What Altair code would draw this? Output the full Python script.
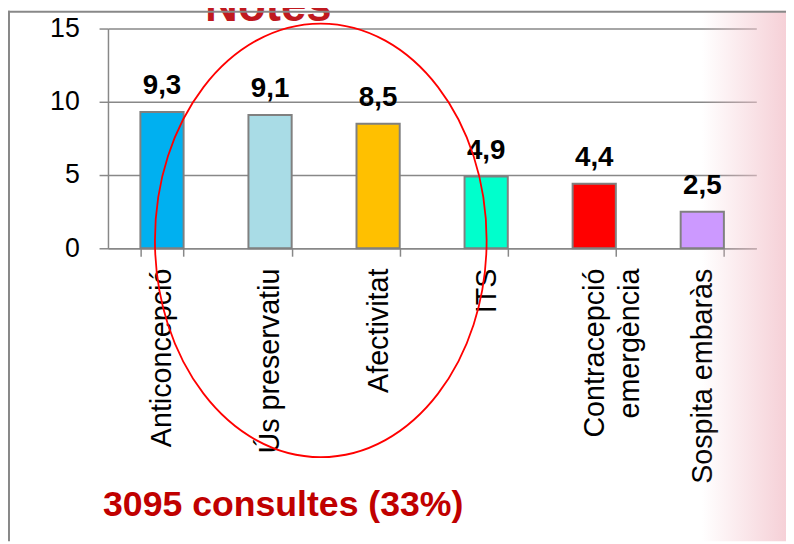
import altair as alt
import pandas as pd

categories = ["Anticoncepció", "Ús preservatiu", "Afectivitat", "ITS",
              "Contracepció emergència", "Sospita embaràs"]
values = [9.3, 9.1, 8.5, 4.9, 4.4, 2.5]
colors = ["#00B0F0", "#A9DCE6", "#FFC000", "#00FFCC", "#FF0000", "#CC99FF"]
y_ticks = [0, 5, 10, 15]
title_text = ["Notes"]
footer_text = ["3095 consultes (33%)"]

FONT = "Liberation Sans"
W, H = 655, 222

df = pd.DataFrame({"cat": categories, "value": values, "color": colors})

x_scale = alt.Scale(paddingInner=0.6, paddingOuter=0.3)
y_scale = alt.Scale(domain=[0, 15], nice=False)

x_enc = alt.X(
    "cat:N", sort=categories, scale=x_scale,
    axis=alt.Axis(
        title=None, labelAngle=270, labelFontSize=29, labelFont=FONT,
        labelColor="black", labelPadding=12, tickSize=8, tickColor="#888888",
        tickWidth=1.5, domainColor="#888888", domainWidth=1.5,
        tickBand="extent", grid=False, labelLineHeight=36, labelLimit=0,
        labelExpr="indexof(datum.label, 'emerg') > 0 ? split(datum.label, ' ') : datum.label",
    ),
)
y_enc = alt.Y(
    "value:Q", scale=y_scale,
    axis=alt.Axis(
        values=y_ticks, title=None, labelFontSize=27, labelFont=FONT,
        labelColor="black", tickSize=9, labelPadding=20, tickColor="#888888",
        tickWidth=1.5, domainColor="#888888", domainWidth=1.5,
        gridColor="#888888", gridWidth=1.5,
    ),
)

base = alt.Chart(df)

bg = alt.Chart(pd.DataFrame({"a": [0]})).mark_rect(
    fill=alt.Gradient(
        gradient="linear",
        stops=[alt.GradientStop(color="rgba(244,200,208,0)", offset=0),
               alt.GradientStop(color="rgba(244,200,208,0.85)", offset=1)],
        x1=0, x2=1, y1=0, y2=0,
    )
).encode(x=alt.value(600), x2=alt.value(685), y=alt.value(-18), y2=alt.value(518))

bars = base.mark_bar(stroke="#808080", strokeWidth=2).encode(
    x=x_enc, y=y_enc, color=alt.Color("color:N", scale=None)
)

labels = base.transform_calculate(
    label="replace(format(datum.value, '.1f'), '.', ',')"
).mark_text(
    font=FONT, fontSize=28, fontWeight="bold", dy=-18, baseline="alphabetic",
    color="black"
).encode(
    x=alt.X("cat:N", sort=categories, scale=x_scale),
    y=alt.Y("value:Q", scale=y_scale),
    text="label:N",
)

ell_path = "M -0.765 0 A 0.765 1 0 1 1 0.765 0 A 0.765 1 0 1 1 -0.765 0 Z"
ellipse = alt.Chart(pd.DataFrame({"a": [0]})).mark_point(
    shape=ell_path, size=438 * 438, filled=False, stroke="#FF0000",
    strokeWidth=1.8, opacity=1,
).encode(x=alt.value(215), y=alt.value(214))

title = alt.Chart(pd.DataFrame({"t": title_text})).mark_text(
    font=FONT, fontSize=46, fontWeight="bold", color="#C0191F",
    align="center", baseline="alphabetic",
).encode(x=alt.value(162), y=alt.value(-8), text="t:N")

footer = alt.Chart(pd.DataFrame({"t": footer_text})).mark_text(
    font=FONT, fontSize=36, fontWeight="bold", color="#C00000",
    align="left", baseline="alphabetic",
).encode(x=alt.value(-5), y=alt.value(492), text="t:N")

frame_top = alt.Chart(pd.DataFrame({"a": [0]})).mark_rule(
    color="#888888", strokeWidth=2
).encode(x=alt.value(-101), x2=alt.value(685), y=alt.value(-17))
frame_left = alt.Chart(pd.DataFrame({"a": [0]})).mark_rule(
    color="#888888", strokeWidth=2
).encode(x=alt.value(-100), y=alt.value(-18), y2=alt.value(518))

chart = alt.layer(
    bg, bars, labels, ellipse, title, footer, frame_top, frame_left
).properties(
    width=W, height=H,
    autosize=alt.AutoSizeParams(type="none"),
    padding={"left": 101, "top": 18, "right": 30, "bottom": 296},
).configure_view(stroke=None)

chart.save("out.html", embed_options={"renderer": "svg", "actions": False})
